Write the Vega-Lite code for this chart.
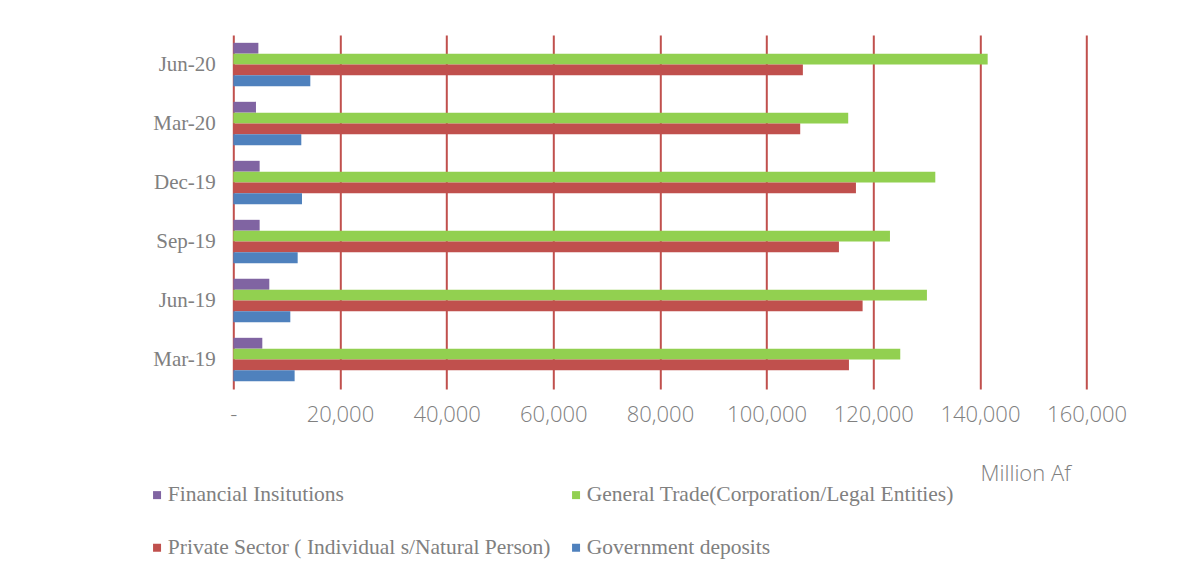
{
  "$schema": "https://vega.github.io/schema/vega-lite/v6.json",
  "autosize": "none",
  "width": 853.3,
  "height": 354,
  "padding": {"left": 233.3, "top": 35, "right": 111.4, "bottom": 195},
  "background": "white",
  "data": {
    "values": [
      {"period": "Jun-20", "series": "Financial Insitutions", "value": 4700},
      {"period": "Jun-20", "series": "General Trade(Corporation/Legal Entities)", "value": 141450},
      {"period": "Jun-20", "series": "Private Sector ( Individual s/Natural Person)", "value": 106800},
      {"period": "Jun-20", "series": "Government deposits", "value": 14440},
      {"period": "Mar-20", "series": "Financial Insitutions", "value": 4250},
      {"period": "Mar-20", "series": "General Trade(Corporation/Legal Entities)", "value": 115300},
      {"period": "Mar-20", "series": "Private Sector ( Individual s/Natural Person)", "value": 106300},
      {"period": "Mar-20", "series": "Government deposits", "value": 12750},
      {"period": "Dec-19", "series": "Financial Insitutions", "value": 4940},
      {"period": "Dec-19", "series": "General Trade(Corporation/Legal Entities)", "value": 131630},
      {"period": "Dec-19", "series": "Private Sector ( Individual s/Natural Person)", "value": 116750},
      {"period": "Dec-19", "series": "Government deposits", "value": 12880},
      {"period": "Sep-19", "series": "Financial Insitutions", "value": 4940},
      {"period": "Sep-19", "series": "General Trade(Corporation/Legal Entities)", "value": 123130},
      {"period": "Sep-19", "series": "Private Sector ( Individual s/Natural Person)", "value": 113560},
      {"period": "Sep-19", "series": "Government deposits", "value": 12070},
      {"period": "Jun-19", "series": "Financial Insitutions", "value": 6750},
      {"period": "Jun-19", "series": "General Trade(Corporation/Legal Entities)", "value": 130060},
      {"period": "Jun-19", "series": "Private Sector ( Individual s/Natural Person)", "value": 118000},
      {"period": "Jun-19", "series": "Government deposits", "value": 10690},
      {"period": "Mar-19", "series": "Financial Insitutions", "value": 5440},
      {"period": "Mar-19", "series": "General Trade(Corporation/Legal Entities)", "value": 125060},
      {"period": "Mar-19", "series": "Private Sector ( Individual s/Natural Person)", "value": 115440},
      {"period": "Mar-19", "series": "Government deposits", "value": 11500}
    ]
  },
  "mark": {"type": "bar"},
  "encoding": {
    "y": {
      "field": "period",
      "type": "nominal",
      "sort": ["Jun-20", "Mar-20", "Dec-19", "Sep-19", "Jun-19", "Mar-19"],
      "scale": {"paddingInner": 0.265, "paddingOuter": 0.1325},
      "axis": {
        "title": null,
        "ticks": false,
        "domain": false,
        "labelFont": "Liberation Serif",
        "labelFontSize": 21,
        "labelColor": "#808080",
        "labelPadding": 18
      }
    },
    "yOffset": {
      "field": "series",
      "type": "nominal",
      "sort": ["Financial Insitutions", "General Trade(Corporation/Legal Entities)", "Private Sector ( Individual s/Natural Person)", "Government deposits"],
      "scale": {"paddingInner": 0, "paddingOuter": 0}
    },
    "x": {
      "field": "value",
      "type": "quantitative",
      "scale": {"domain": [0, 160000], "nice": false},
      "axis": {
        "values": [0, 20000, 40000, 60000, 80000, 100000, 120000, 140000, 160000],
        "labelExpr": "datum.value == 0 ? '-   ' : format(datum.value, ',')",
        "labelOverlap": false,
        "labelFlush": false,
        "grid": true,
        "gridColor": "#C0504D",
        "gridWidth": 2,
        "gridOpacity": 1,
        "ticks": false,
        "domain": false,
        "labelFont": "Open Sans",
        "labelFontWeight": 300,
        "labelFontSize": 22,
        "labelColor": "#808080",
        "labelPadding": 15,
        "title": "Million Af",
        "titleFont": "Open Sans",
        "titleFontWeight": 300,
        "titleFontSize": 22,
        "titleColor": "#808080",
        "titleAlign": "right",
        "titleAnchor": null,
        "titleX": 837,
        "titleY": 84,
        "titleBaseline": "middle"
      }
    },
    "color": {
      "field": "series",
      "type": "nominal",
      "scale": {
        "domain": ["Financial Insitutions", "General Trade(Corporation/Legal Entities)", "Private Sector ( Individual s/Natural Person)", "Government deposits"],
        "range": ["#8064A2", "#92D050", "#C0504D", "#4F81BD"]
      },
      "legend": {
        "title": null,
        "orient": "none",
        "legendX": -87,
        "legendY": 449,
        "columns": 2,
        "direction": "horizontal",
        "symbolType": "square",
        "symbolSize": 64,
        "symbolStrokeWidth": 0,
        "labelFont": "Liberation Serif",
        "labelFontSize": 21.5,
        "labelColor": "#808080",
        "labelOffset": 0,
        "labelLimit": 600,
        "columnPadding": 14,
        "rowPadding": 30
      }
    }
  },
  "config": {
    "view": {"stroke": null}
  }
}
